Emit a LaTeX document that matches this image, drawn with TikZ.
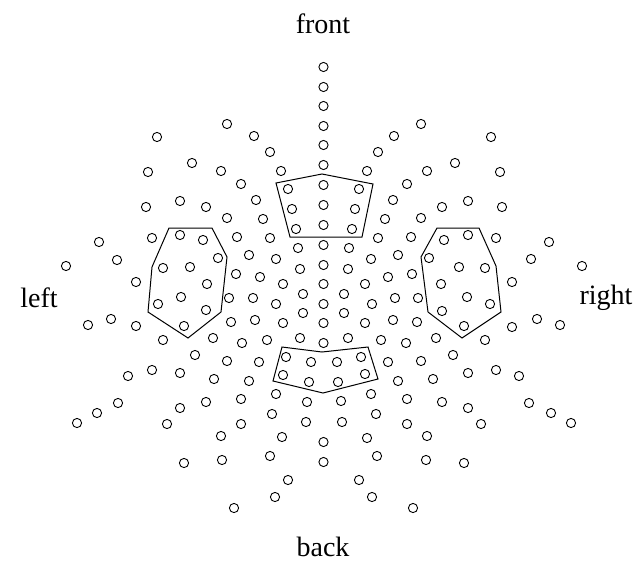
\documentclass[tikz,border=0pt]{standalone}
\usepackage{fontspec}
\setmainfont{Liberation Serif}
\begin{document}
\begin{tikzpicture}[x=1pt,y=-1pt,
  electrode/.style={draw=black, line width=0.9pt},
  region/.style={draw=black, line width=1pt, line join=miter},
  lbl/.style={font=\fontsize{28}{32}\selectfont, inner sep=0pt}]
\useasboundingbox (0,0) rectangle (636,565);
% midline
\foreach \y in {67,87,106,126,145,165,185,205,225,245,265,284,304,323,343,442,462}
  {\draw[electrode] (323.5,\y) circle[radius=4.6pt];}
% other electrodes
\foreach \x/\y in {
 157/137,192/163,148/172,180/201,146/207,
 227/124,254/136,270/152,221/171,281/171,241/184,206/207,256/200,227/218,263/219,
 237/237,270/238,298/248,249/255,276/259,300/269,236/274,260/277,283/284,
 229/298,253/298,303/294,276/304,303/313,231/322,255/320,283/323,
 213/338,242/343,267/340,300/338,195/355,
 288/189,292/209,296/229,359/189,355/209,352/229,
 421/124,394/136,378/152,455/163,427/171,367/171,407/184,393/200,442/207,385/219,421/218,
 491/137,500/172,468/201,502/207,
 378/238,411/237,349/248,398/255,371/259,348/269,412/274,388/277,365/284,344/294,
 395/298,418/298,372/304,344/313,365/323,393/320,417/322,348/338,381/340,406/343,436/338,453/355,
 444/240,468/235,429/258,459/267,485/268,441/284,467/297,490/304,442/311,464/326,
 496/238,549/242,531/259,582/266,512/282,537/319,512/327,560/325,485/340,
 99/242,152/238,117/260,66/266,136/282,88/325,111/319,136/326,163/340,
 180/235,203/240,218/258,163/268,190/267,207/284,181/297,158/304,206/310,184/326,
 286/357,311/362,337/362,361/357,283/375,309/382,338/382,365/374,
 128/376,152/370,180/373,118/403,97/413,77/423,180/408,167/424,184/463,
 227/361,259/362,214/379,249/381,276/394,206/402,241/399,307/402,272/414,306/422,
 241/424,221/436,282/437,222/460,270/456,288/480,275/497,234/508,
 388/362,421/361,398/381,433/379,341/401,371/394,407/399,442/402,342/422,376/414,
 407/424,367/438,427/436,377/456,426/460,359/480,372/497,413/508,
 468/373,496/370,519/376,529/403,551/413,571/423,468/408,481/424,464/463}
  {\draw[electrode] (\x,\y) circle[radius=4.6pt];}
% regions
\draw[region] (276,183) -- (322,174) -- (373,184) -- (362,237) -- (290,237) -- cycle;
\draw[region] (282,347) -- (322,352) -- (368,347) -- (378,379) -- (323,393) -- (273,381) -- cycle;
\draw[region] (169,228) -- (212,228) -- (227,257) -- (221,312) -- (188,338) -- (148,312) -- (152,267) -- cycle;
\draw[region] (437,228) -- (479,228) -- (496,266) -- (501,312) -- (462,338) -- (428,312) -- (421,257) -- cycle;
% labels
\node[lbl] (front) at (323,24) {front};
\node[lbl] (back) at (323,547) {back};
\node[lbl] (left) at (39,298) {left};
\node[lbl] (right) at (606,298) {right};
\end{tikzpicture}
\end{document}
